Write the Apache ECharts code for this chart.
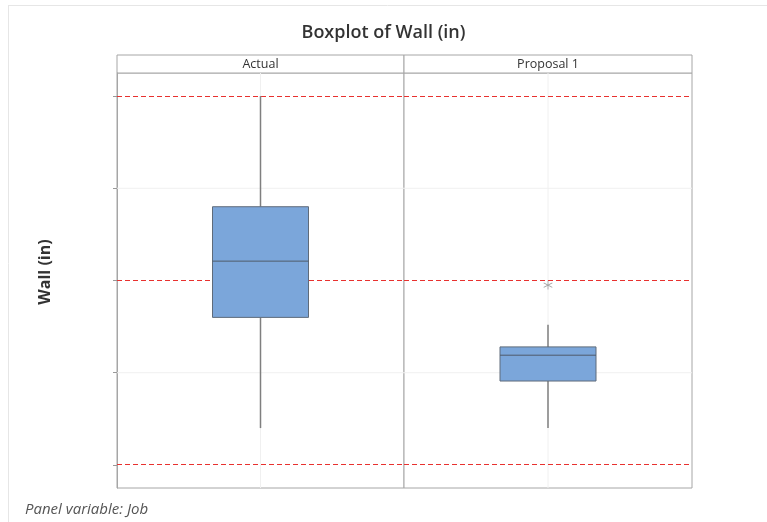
<!DOCTYPE html>
<html>
<head>
<meta charset="utf-8">
<script src="https://cdn.jsdelivr.net/npm/echarts@6/dist/echarts.min.js"></script>
<style>
  html, body { margin: 0; padding: 0; background: #fff; }
  #chart { width: 767px; height: 522px; }
</style>
</head>
<body>
<div id="chart"></div>
<script>
// panels (Job) and their box statistics: [low whisker, Q1, median, Q3, high whisker]
const panels = ['Actual', 'Proposal 1'];
const boxStats = [
  [0.40, 1.60, 2.21, 2.80, 4.00],
  [0.40, 0.91, 1.19, 1.28, 1.52]
];
// outliers per panel
const outliers = [[], [1.95]];
// reference lines (red dashed)
const refLines = [0, 2, 4];
// y tick positions (labels not shown in the original)
const tickValues = [0, 1, 2, 3, 4];
const gridValues = [1, 3];

const font = '"Open Sans", "Noto Sans", sans-serif';
const borderGray = '#a6a6a6';
const refRed = '#e8312f';
const boxHalf = 48;

// asterisk symbol for outliers
const asterisk = 'path://M4.6,0L5.4,0L5.4,10L4.6,10Z' +
  'M0.47,2.85L9.13,7.85L9.53,7.15L0.87,2.15Z' +
  'M0.87,7.85L9.53,2.85L9.13,2.15L0.47,7.15Z';

const panelLeft = [117, 404];
const panelWidth = [287, 288];

const grids = [], xAxes = [], yAxes = [], series = [], graphics = [];

// faint horizontal grid lines + vertical line at the box centre
function renderGrid(params, api) {
  const cs = params.coordSys;
  const cx = api.coord([0, 0])[0];
  const children = [{
    type: 'line', shape: { x1: cx, y1: cs.y, x2: cx, y2: cs.y + cs.height },
    style: { stroke: '#f0f0f0', lineWidth: 1 }
  }];
  gridValues.forEach(v => {
    const y = api.coord([0, v])[1];
    children.push({
      type: 'line', shape: { x1: cs.x, y1: y, x2: cs.x + cs.width, y2: y },
      style: { stroke: '#f0f0f0', lineWidth: 1 }
    });
  });
  return { type: 'group', children: children };
}

// red dashed reference lines, dashes built as one path
function renderRef(params, api) {
  const cs = params.coordSys;
  let d = '';
  refLines.forEach(v => {
    const y = Math.floor(api.coord([0, v])[1]) + 0.5;
    for (let x = cs.x; x < cs.x + cs.width; x += 8) {
      d += 'M' + x + ',' + y + 'L' + Math.min(x + 5, cs.x + cs.width) + ',' + y;
    }
  });
  return {
    type: 'path', shape: { pathData: d },
    style: { stroke: refRed, fill: null, lineWidth: 1 }
  };
}

function renderBox(params, api) {
  const x = api.value(0);
  const pLow = api.coord([x, api.value(1)]);
  const pQ1 = api.coord([x, api.value(2)]);
  const pMed = api.coord([x, api.value(3)]);
  const pQ3 = api.coord([x, api.value(4)]);
  const pHigh = api.coord([x, api.value(5)]);
  const cx = pMed[0];
  const whisker = { stroke: '#7f7f7f', lineWidth: 1.5 };
  return {
    type: 'group',
    children: [
      { type: 'line', shape: { x1: cx, y1: pHigh[1], x2: cx, y2: pQ3[1] }, style: whisker },
      { type: 'line', shape: { x1: cx, y1: pQ1[1], x2: cx, y2: pLow[1] }, style: whisker },
      {
        type: 'rect',
        shape: { x: cx - boxHalf, y: pQ3[1], width: boxHalf * 2, height: pQ1[1] - pQ3[1] },
        style: { fill: '#7ba6da', stroke: '#5f6b7a', lineWidth: 1 }
      },
      {
        type: 'line', shape: { x1: cx - boxHalf, y1: pMed[1], x2: cx + boxHalf, y2: pMed[1] },
        style: { stroke: '#4f5b6a', lineWidth: 1 }
      }
    ]
  };
}

panels.forEach((name, i) => {
  grids.push({
    left: panelLeft[i], width: panelWidth[i], top: 73, bottom: 34,
    show: true, borderColor: borderGray, borderWidth: 1, backgroundColor: '#fff'
  });
  xAxes.push({
    type: 'category', gridIndex: i, data: [name],
    axisLine: { show: false }, axisTick: { show: false }, axisLabel: { show: false },
    splitLine: { show: false }
  });
  yAxes.push({
    type: 'value', gridIndex: i, min: -0.25, max: 4.25,
    axisLine: { show: i === 0, lineStyle: { color: borderGray } },
    axisTick: { show: i === 0, customValues: tickValues, length: 4, lineStyle: { color: '#999' } },
    axisLabel: { show: false },
    splitLine: { show: false }
  });
  series.push({
    type: 'custom', xAxisIndex: i, yAxisIndex: i, silent: true, z: 1,
    itemStyle: { color: '#f0f0f0' },
    data: [[0]], renderItem: renderGrid
  });
  series.push({
    type: 'custom', xAxisIndex: i, yAxisIndex: i, silent: true, z: 2,
    itemStyle: { color: refRed },
    data: [[0]], renderItem: renderRef
  });
  series.push({
    type: 'custom', xAxisIndex: i, yAxisIndex: i, silent: true, z: 3,
    itemStyle: { color: '#7ba6da' },
    data: [[0, ...boxStats[i]]], renderItem: renderBox
  });
  if (outliers[i].length) {
    series.push({
      type: 'scatter', xAxisIndex: i, yAxisIndex: i,
      data: outliers[i].map(v => [name, v]),
      symbol: asterisk, symbolSize: 9,
      itemStyle: { color: '#8a8a8a' }, z: 4
    });
  }
  // panel header strip
  graphics.push({
    type: 'rect', shape: { x: panelLeft[i], y: 55, width: panelWidth[i], height: 18 },
    style: { fill: '#fff', stroke: borderGray, lineWidth: 1 }
  });
  graphics.push({
    type: 'text', x: panelLeft[i] + panelWidth[i] / 2, y: 64,
    style: { text: name, fontFamily: font, fontSize: 12.5, fontWeight: 500, fill: '#333', align: 'center', verticalAlign: 'middle' }
  });
});

// outer frame lines of the screenshot
graphics.push({ type: 'line', shape: { x1: 8, y1: 5.5, x2: 767, y2: 5.5 }, style: { stroke: '#e6e6e6', lineWidth: 1 } });
graphics.push({ type: 'line', shape: { x1: 8.5, y1: 5, x2: 8.5, y2: 522 }, style: { stroke: '#e6e6e6', lineWidth: 1 } });
// y axis name
graphics.push({
  type: 'text', x: 45, y: 272, rotation: Math.PI / 2,
  style: { text: 'Wall (in)', fontFamily: font, fontSize: 16, fontWeight: 'bold', fill: '#333', align: 'center', verticalAlign: 'middle' }
});
// footnote
graphics.push({
  type: 'text', x: 25, y: 510,
  style: { text: 'Panel variable: Job', fontFamily: font, fontSize: 15, fontStyle: 'italic', fill: '#555', verticalAlign: 'middle' }
});

const chart = echarts.init(document.getElementById('chart'), null, { renderer: 'canvas' });
chart.setOption({
  backgroundColor: '#fff',
  animation: false,
  title: {
    text: 'Boxplot of Wall (in)', left: 'center', top: 19,
    textStyle: { fontFamily: font, fontSize: 18, fontWeight: 600, color: '#333' }
  },
  grid: grids,
  xAxis: xAxes,
  yAxis: yAxes,
  series: series,
  graphic: graphics
});
</script>
</body>
</html>
